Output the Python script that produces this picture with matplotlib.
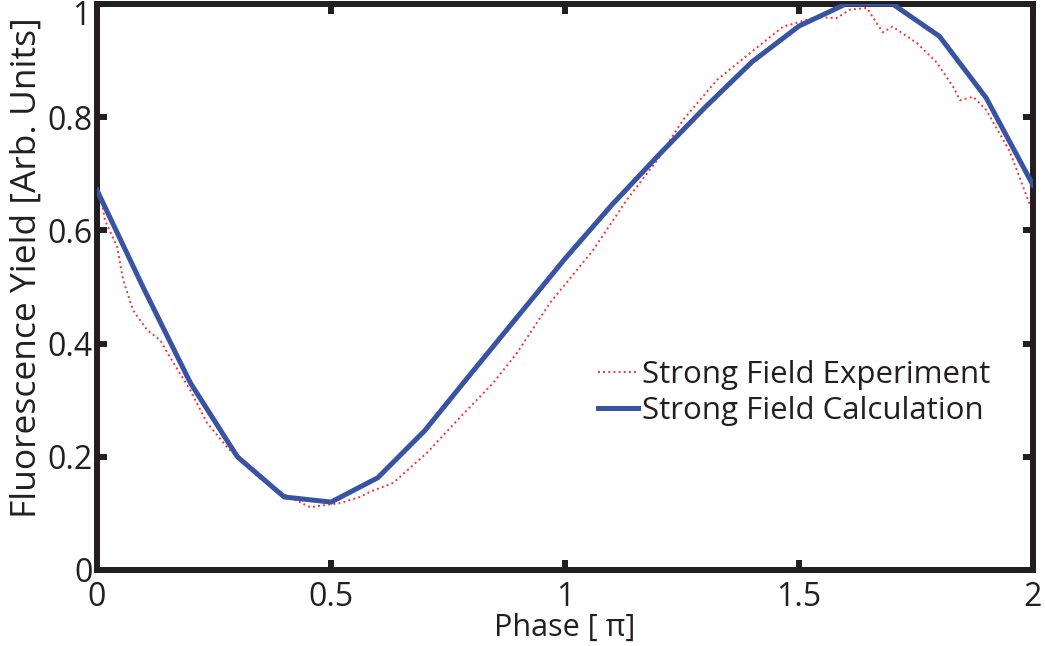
import matplotlib
matplotlib.use("Agg")
import matplotlib.pyplot as plt

# Strong field calculation (every 0.1 pi)
phase_calc = [0.0, 0.1, 0.2, 0.3, 0.4, 0.5, 0.6, 0.7, 0.8, 0.9, 1.0,
              1.1, 1.2, 1.3, 1.4, 1.5, 1.6, 1.7, 1.8, 1.9, 2.0]
yield_calc = [0.671, 0.497, 0.330, 0.200, 0.129, 0.120, 0.163, 0.246, 0.348, 0.449, 0.550,
              0.645, 0.733, 0.818, 0.898, 0.961, 1.000, 1.000, 0.943, 0.834, 0.680]

# Strong field experiment
phase_exp = [0.000, 0.017, 0.043, 0.056, 0.077, 0.107, 0.135, 0.156, 0.199, 0.235,
             0.278, 0.312, 0.350, 0.397, 0.455, 0.519, 0.562, 0.583, 0.633, 0.705,
             0.776, 0.846, 0.897, 0.968, 1.060, 1.132, 1.197, 1.252, 1.325, 1.395,
             1.466, 1.538, 1.580, 1.609, 1.645, 1.679, 1.700, 1.752, 1.795, 1.830,
             1.844, 1.872, 1.900, 1.950, 2.000]
yield_exp = [0.694, 0.618, 0.571, 0.512, 0.459, 0.424, 0.406, 0.376, 0.318, 0.260,
             0.217, 0.189, 0.160, 0.135, 0.111, 0.118, 0.129, 0.138, 0.154, 0.207,
             0.270, 0.330, 0.383, 0.472, 0.565, 0.654, 0.724, 0.795, 0.866, 0.913,
             0.960, 0.977, 0.975, 0.990, 0.993, 0.950, 0.960, 0.931, 0.896, 0.853,
             0.830, 0.836, 0.813, 0.740, 0.631]

xticks = [0, 0.5, 1, 1.5, 2]
xticklabels = ["0", "0.5", "1", "1.5", "2"]
yticks = [0, 0.2, 0.4, 0.6, 0.8, 1.0]
yticklabels = ["0", "0.2", "0.4", "0.6", "0.8", "1"]

plt.rcParams['font.family'] = ['Open Sans', 'DejaVu Sans']
INK = '#231f20'

fig = plt.figure(figsize=(10.45, 6.46), dpi=100)
ax = fig.add_axes([97/1045, 1 - 570/646, (1033-97)/1045, (570-4)/646])

ax.plot(phase_exp, yield_exp, linestyle=':', color='#ff3030', linewidth=1.4,
        label='Strong Field Experiment', zorder=2)
ax.plot(phase_calc, yield_calc, linestyle='-', color='#3953a4', linewidth=3.6,
        label='Strong Field Calculation', zorder=3, solid_joinstyle='miter')

ax.set_xlim(0, 2)
ax.set_ylim(0, 1)
ax.set_xticks(xticks)
ax.set_xticklabels(xticklabels)
ax.set_yticks(yticks)
# top label "1" is drawn shifted down (as in the reference) so it is not clipped
ax.set_yticklabels(yticklabels[:-1] + [""])
ax.annotate(yticklabels[-1], xy=(0, yticks[-1]), xycoords=('axes fraction', 'data'),
            xytext=(-5, -9), textcoords='offset points', ha='right', va='center',
            fontsize=23, color=INK, annotation_clip=False)

for s in ax.spines.values():
    s.set_linewidth(4.3)
    s.set_color(INK)
ax.tick_params(direction='in', length=7, width=4.3, colors=INK,
               labelsize=23, top=True, right=True)
ax.tick_params(axis='y', pad=3)
ax.tick_params(axis='x', pad=8)
for lab in ax.get_xticklabels() + ax.get_yticklabels():
    lab.set_color(INK)

ax.set_xlabel('Phase [ π]', fontsize=22, color=INK, labelpad=-1)
ax.set_ylabel('Fluorescence Yield [Arb. Units]', fontsize=25.5, color=INK)
ax.yaxis.set_label_coords(-0.057, 0.535)

leg = ax.legend(loc='center left', bbox_to_anchor=(0.535, 0.313), frameon=False,
                fontsize=22.5, handlelength=1.28, handletextpad=0.13, labelspacing=0.2,
                borderaxespad=0, borderpad=0)
for t in leg.get_texts():
    t.set_color(INK)

fig.savefig('out.png', dpi=100)
